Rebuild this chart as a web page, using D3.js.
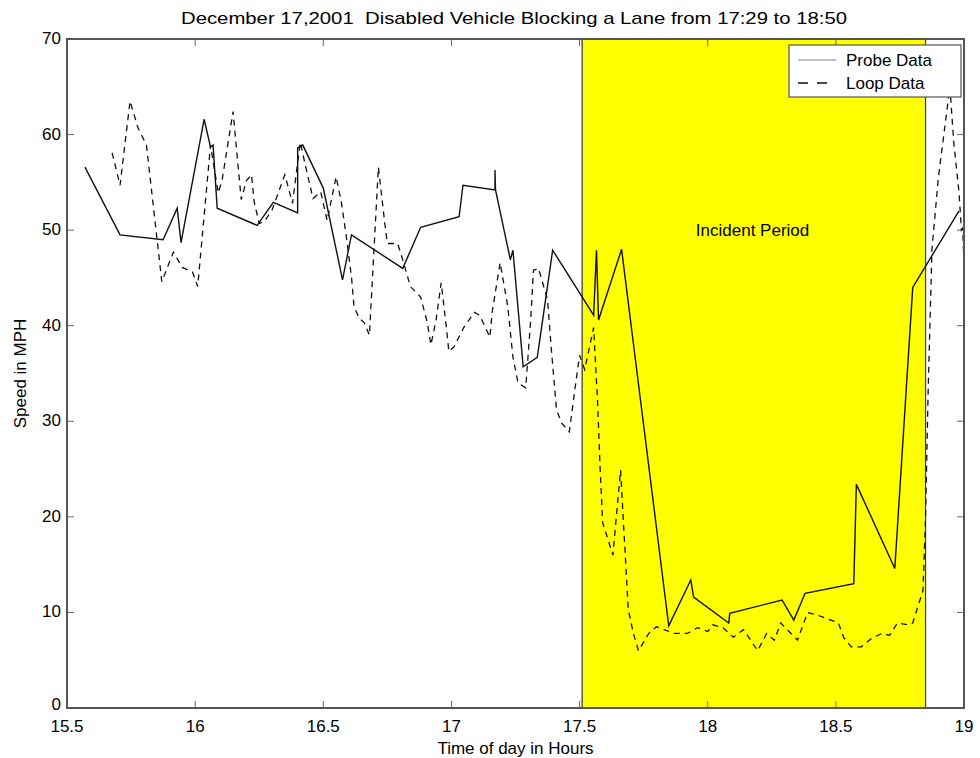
<!DOCTYPE html>
<html><head><meta charset="utf-8">
<script src="https://cdn.jsdelivr.net/npm/d3@7/dist/d3.min.js"></script>
<style>body{margin:0;background:#fff}svg text{font-family:"Liberation Sans",Arial,sans-serif;fill:#000}</style>
</head><body><svg id="c" width="980" height="758"></svg>
<script>
const titleText = "December 17,2001\u00a0\u00a0Disabled Vehicle Blocking a Lane from 17:29 to 18:50";
const xLabel = "Time of day in Hours";
const yLabel = "Speed in MPH";
const xTicks = [15.5,16,16.5,17,17.5,18,18.5,19];
const yTicks = [0,10,20,30,40,50,60,70];
const incident = [17.51, 18.85];
const incidentLabel = "Incident Period";
const seriesNames = ["Probe Data","Loop Data"];

const probeTime = [15.57,15.707,15.875,15.93,15.945,16.035,16.06,16.07,16.086,16.242,16.305,16.40,16.40,16.42,16.50,16.575,16.61,16.81,16.88,17.03,17.045,17.17,17.17,17.172,17.23,17.24,17.28,17.335,17.395,17.555,17.566,17.574,17.664,17.848,17.934,17.945,18.082,18.086,18.29,18.336,18.38,18.57,18.58,18.73,18.80,18.98];
const probeSpeed = [56.6,49.5,49.0,52.3,48.7,61.6,58.7,58.9,52.3,50.5,52.9,51.8,58.6,58.9,54.4,44.8,49.5,46.0,50.3,51.4,54.7,54.2,56.3,54.2,46.9,47.9,35.7,36.7,47.9,41.1,47.9,40.6,48.0,8.6,13.4,11.6,8.9,9.9,11.3,9.2,12.0,13.0,23.4,14.6,44.0,52.0];

const loopTime = [15.676,15.707,15.746,15.777,15.81,15.87,15.915,15.95,15.99,16.01,16.06,16.09,16.105,16.148,16.164,16.18,16.20,16.22,16.23,16.25,16.27,16.30,16.35,16.38,16.41,16.44,16.46,16.49,16.515,16.55,16.57,16.59,16.61,16.62,16.64,16.66,16.68,16.715,16.74,16.75,16.79,16.81,16.84,16.88,16.906,16.92,16.94,16.96,16.98,16.99,17.01,17.05,17.09,17.11,17.15,17.16,17.19,17.22,17.24,17.26,17.29,17.31,17.32,17.34,17.375,17.39,17.41,17.43,17.46,17.48,17.50,17.52,17.555,17.57,17.58,17.59,17.63,17.66,17.67,17.69,17.71,17.73,17.77,17.80,17.83,17.87,17.92,17.96,18.00,18.02,18.06,18.10,18.14,18.195,18.23,18.26,18.285,18.35,18.39,18.43,18.48,18.51,18.53,18.56,18.60,18.64,18.68,18.71,18.74,18.78,18.80,18.82,18.84,18.85,18.86,18.875,18.90,18.92,18.945,18.96,18.98,18.99,18.995,19.0];
const loopSpeed = [58.1,54.7,63.5,60.7,58.9,44.6,47.7,46.1,45.6,44.1,58.9,53.9,55.2,62.4,57.7,53.2,55.2,55.8,53.0,50.7,50.9,52.1,55.8,52.8,59.2,55.6,53.3,54.0,51.0,55.6,53.0,49.3,45.1,42.0,40.8,40.3,39.0,56.6,50.7,48.6,48.6,46.9,44.1,43.0,40.3,38.0,40.6,44.5,39.9,37.3,37.8,39.9,41.4,41.1,38.8,41.6,46.6,42.0,36.7,34.0,33.5,40.9,45.8,46.0,42.7,37.5,31.2,29.8,28.9,33.0,36.9,35.4,39.8,32.2,25.2,19.4,16.0,24.9,20.0,10.3,7.8,6.0,7.8,8.5,8.2,7.8,7.8,8.4,8.0,8.7,8.4,7.4,8.2,6.0,7.8,7.1,8.9,7.1,10.0,9.7,9.2,8.9,7.4,6.4,6.4,7.3,7.8,7.6,8.9,8.7,8.9,10.6,12.3,20.0,33.0,48.0,55.5,59.7,65.0,59.2,54.1,50.0,50.2,46.4];

const svg = d3.select("#c");
const L=67,R=964,T=39,B=708;
const x = d3.scaleLinear().domain([15.5,19]).range([L,R]);
const y = d3.scaleLinear().domain([0,70]).range([B,T]);

// incident band
svg.append("rect").attr("x",x(incident[0])).attr("y",T).attr("width",x(incident[1])-x(incident[0])).attr("height",B-T)
  .attr("fill","#ffff00").attr("stroke","#333").attr("stroke-width",1.2);

// ticks (inside, mirrored)
const tl=7;
const g=svg.append("g").attr("stroke","#666").attr("stroke-width",1);
xTicks.forEach(t=>{g.append("line").attr("x1",x(t)).attr("x2",x(t)).attr("y1",B).attr("y2",B-tl);
  g.append("line").attr("x1",x(t)).attr("x2",x(t)).attr("y1",T).attr("y2",T+tl);});
yTicks.forEach(t=>{g.append("line").attr("y1",y(t)).attr("y2",y(t)).attr("x1",L).attr("x2",L+tl);
  g.append("line").attr("y1",y(t)).attr("y2",y(t)).attr("x1",R).attr("x2",R-tl);});

svg.append("text").attr("x",x(17.5)+(x(incident[1])-x(17.5))/2).attr("y",y(50)+6).attr("text-anchor","middle")
  .attr("font-size",17).text(incidentLabel);

const line = d3.line().x(d=>x(d[0])).y(d=>y(d[1]));
const probe = probeTime.map((t,i)=>[t,probeSpeed[i]]);
const loop = loopTime.map((t,i)=>[t,loopSpeed[i]]);
svg.append("path").datum(loop).attr("d",line).attr("fill","none").attr("stroke","#111").attr("stroke-width",1.3).attr("stroke-dasharray","6,5");
svg.append("path").datum(probe).attr("d",line).attr("fill","none").attr("stroke","#111").attr("stroke-width",1.4);

// frame
svg.append("rect").attr("x",L).attr("y",T).attr("width",R-L).attr("height",B-T).attr("fill","none").attr("stroke","#555").attr("stroke-width",2);

// tick labels
xTicks.forEach(t=>svg.append("text").attr("x",x(t)).attr("y",B+24).attr("text-anchor","middle").attr("font-size",17).text(d3.format("")(t)));
yTicks.forEach(t=>svg.append("text").attr("x",L-6).attr("y",y(t)+(t===0?2:5)).attr("text-anchor","end").attr("font-size",17).text(t));

svg.append("text").attr("x",(L+R)/2).attr("y",B+46).attr("text-anchor","middle").attr("font-size",17).text(xLabel);
svg.append("text").attr("transform",`translate(26,${(T+B)/2}) rotate(-90)`).attr("text-anchor","middle").attr("font-size",17).text(yLabel);
svg.append("text").attr("x",514).attr("y",24).attr("text-anchor","middle").attr("font-size",17)
  .attr("textLength",666).attr("lengthAdjust","spacingAndGlyphs").text(titleText);

// legend
const lg=svg.append("g");
lg.append("rect").attr("x",789).attr("y",45).attr("width",172).attr("height",52).attr("fill","#fff").attr("stroke","#555").attr("stroke-width",1.2);
lg.append("line").attr("x1",798).attr("x2",836).attr("y1",60).attr("y2",60).attr("stroke","#aaa").attr("stroke-width",1.5);
lg.append("line").attr("x1",798).attr("x2",836).attr("y1",83).attr("y2",83).attr("stroke","#111").attr("stroke-width",1.3).attr("stroke-dasharray","10,9");
lg.append("text").attr("x",846).attr("y",66).attr("font-size",17).text(seriesNames[0]);
lg.append("text").attr("x",846).attr("y",89).attr("font-size",17).text(seriesNames[1]);
</script></body></html>
